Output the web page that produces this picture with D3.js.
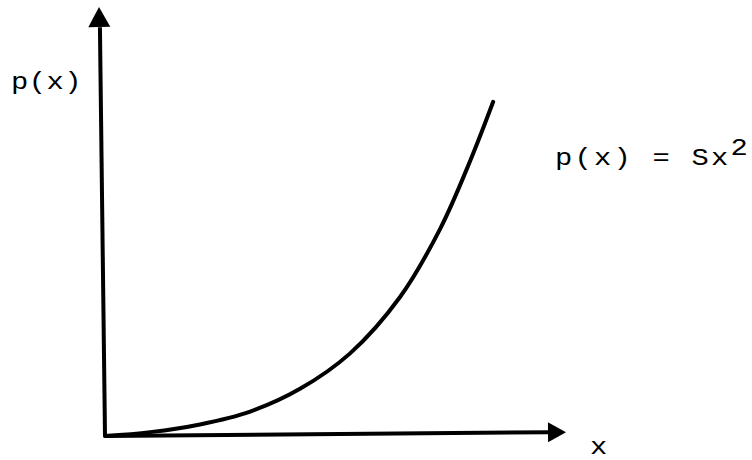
<!DOCTYPE html>
<html>
<head>
<meta charset="utf-8">
<script src="https://cdn.jsdelivr.net/npm/d3@7"></script>
<style>
  html, body { margin: 0; padding: 0; background: #fff; }
  svg { display: block; }
  text { font-family: "Liberation Mono", "Courier New", monospace; fill: #000; }
</style>
</head>
<body>
<svg id="chart" width="752" height="460"></svg>
<script>
// Growth curve p(x), sampled along its length (axis units 0..10)
const curveX = [0, 0.98, 2.06, 3.15, 4.23, 5.31, 6.40, 7.27, 7.92, 8.42];
const curveY = [0, 0.09, 0.27, 0.57, 1.10, 1.92, 3.24, 4.83, 6.41, 7.79];

// Axis shafts (start, end) and arrow tips, in axis units
const yAxisLine = [[0, 0], [-0.11, 9.53]];
const yAxisTip = [-0.13, 10];
const xAxisLine = [[0, 0], [9.63, 0.09]];
const xAxisTip = [10, 0.09];

// Labels
const yLabel = "p(x)";
const xLabel = "x";
const formulaText = "p(x) = Sx";
const formulaExp = "2";

const svg = d3.select("#chart");
const x = d3.scaleLinear().domain([0, 10]).range([105, 566]);
const y = d3.scaleLinear().domain([0, 10]).range([436, 7]);

const line = d3.line().x(d => x(d[0])).y(d => y(d[1]));

// Axes
svg.append("path").attr("d", line(yAxisLine))
  .attr("stroke", "#000").attr("stroke-width", 4).attr("fill", "none");
svg.append("path").attr("d", line(xAxisLine))
  .attr("stroke", "#000").attr("stroke-width", 4).attr("fill", "none");

// Arrowheads
function arrow(tip, from, len, half) {
  const tx = x(tip[0]), ty = y(tip[1]);
  const fx = x(from[0]), fy = y(from[1]);
  const dx = tx - fx, dy = ty - fy, L = Math.hypot(dx, dy);
  const ux = dx / L, uy = dy / L;
  const bx = tx - ux * len, by = ty - uy * len;
  const px = -uy, py = ux;
  return `M${tx},${ty}L${bx + px * half},${by + py * half}L${bx - px * half},${by - py * half}Z`;
}
svg.append("path").attr("d", arrow(yAxisTip, yAxisLine[0], 20, 11)).attr("fill", "#000");
svg.append("path").attr("d", arrow(xAxisTip, xAxisLine[0], 18, 10)).attr("fill", "#000");

// Curve
const pts = curveX.map((v, i) => [v, curveY[i]]);
svg.append("path")
  .attr("d", d3.line().x(d => x(d[0])).y(d => y(d[1])).curve(d3.curveCatmullRom.alpha(0.5))(pts))
  .attr("stroke", "#000").attr("stroke-width", 4)
  .attr("stroke-linecap", "round").attr("fill", "none");

// Text labels (slightly widened monospace)
function label(px, py, size, spacing) {
  return svg.append("text")
    .attr("transform", `translate(${px},${py}) scale(1.2,1)`)
    .attr("font-size", size).attr("letter-spacing", spacing);
}
label(11, 89, 24, 0.4).text(yLabel);
label(590, 454, 24, 0).text(xLabel);
const f = label(555, 165, 24, 1.85);
f.append("tspan").text(formulaText);
f.append("tspan").attr("dy", -10).attr("letter-spacing", 0).text(formulaExp);
</script>
</body>
</html>
